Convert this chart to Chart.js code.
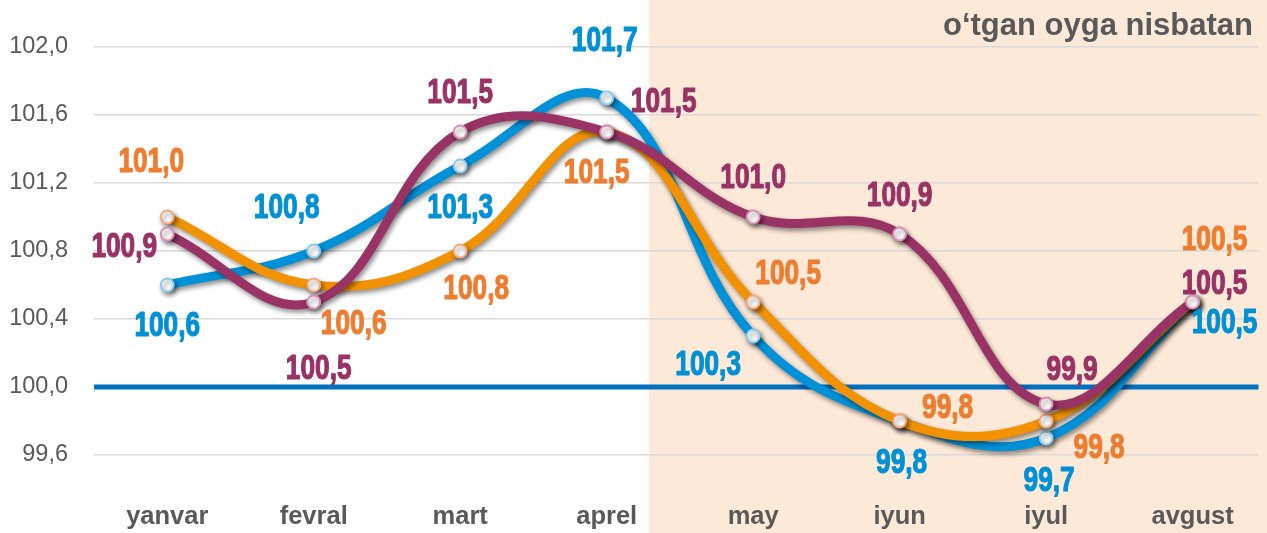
<!DOCTYPE html>
<html>
<head>
<meta charset="utf-8">
<script src="https://cdn.jsdelivr.net/npm/chart.js@4.4.1/dist/chart.umd.min.js"></script>
<style>
    html, body { margin: 0; padding: 0; background: #fff; overflow: hidden; }
    canvas { display: block; }
</style>
</head>
<body>
<canvas id="myChart" width="1267" height="533"></canvas>
<script>
const months = ["yanvar", "fevral", "mart", "aprel", "may", "iyun", "iyul", "avgust"];
const blueValues = [100.6, 100.8, 101.3, 101.7, 100.3, 99.8, 99.7, 100.5];
const orangeValues = [101.0, 100.6, 100.8, 101.5, 100.5, 99.8, 99.8, 100.5];
const purpleValues = [100.9, 100.5, 101.5, 101.5, 101.0, 100.9, 99.9, 100.5];
const yTicks = [99.6, 100.0, 100.4, 100.8, 101.2, 101.6, 102.0];
const baseline = 100;
const titleText = "o‘tgan oyga nisbatan";

const toPoints = (vals) => vals.map((v, i) => ({ x: i, y: v }));
const fmt = (v) => v.toFixed(1).replace(".", ",");

// label offsets (px) from each point, per series
const blueOffsets = [[0, 40], [-27, -44], [0, 41], [-2, -58], [-45, 28], [2, 41], [3, 42], [32, 20]];
const orangeOffsets = [[-16, -56], [40, 38], [16, 37], [-10, 40], [35, -29], [48, -14], [53, 26], [22, -63]];
const purpleOffsets = [[-43, 12], [5, 66], [0, -40], [57, -31], [0, -40], [0, -39], [26, -35], [22, -19]];

// shaded area + baseline + title
const backPlugin = {
    id: "back",
    beforeDraw(chart) {
        const ctx = chart.ctx;
        const x0 = chart.scales.x.getPixelForValue(3.29);
        ctx.save();
        ctx.fillStyle = "#fde9d8";
        ctx.fillRect(x0, 0, chart.width - x0, chart.height);
        ctx.restore();
    },
    beforeDatasetsDraw(chart) {
        const ctx = chart.ctx;
        const y = chart.scales.y.getPixelForValue(baseline);
        ctx.save();
        ctx.strokeStyle = "#0070c0";
        ctx.lineWidth = 5;
        ctx.beginPath();
        ctx.moveTo(chart.chartArea.left, y);
        ctx.lineTo(chart.chartArea.right, y);
        ctx.stroke();
        ctx.restore();
    },
    afterDraw(chart) {
        const ctx = chart.ctx;
        ctx.save();
        ctx.fillStyle = "#595959";
        ctx.font = "bold 31px 'Liberation Sans', Arial, sans-serif";
        ctx.textAlign = "right";
        ctx.textBaseline = "alphabetic";
        ctx.fillText(titleText, 1253, 35);
        ctx.restore();
    },
};

const shadowPlugin = {
    id: "shadow",
    beforeDatasetDraw(chart) {
        const ctx = chart.ctx;
        ctx.save();
        ctx.shadowColor = "rgba(0,0,0,0.45)";
        ctx.shadowBlur = 5;
        ctx.shadowOffsetX = 2;
        ctx.shadowOffsetY = 3;
    },
    afterDatasetDraw(chart) {
        chart.ctx.restore();
    },
};

// condensed bold data labels
const labelPlugin = {
    id: "labels",
    afterDatasetsDraw(chart) {
        const ctx = chart.ctx;
        const sx = 0.75;
        ctx.save();
        ctx.font = "bold 35px 'Liberation Sans', Arial, sans-serif";
        ctx.textAlign = "center";
        ctx.textBaseline = "middle";
        ctx.lineWidth = 1.2;
        ctx.lineJoin = "round";
        chart.data.datasets.forEach((ds, di) => {
            const meta = chart.getDatasetMeta(di);
            meta.data.forEach((pt, i) => {
                const off = ds.labelOffsets[i];
                const tx = (pt.x + off[0]) / sx;
                const ty = pt.y + off[1] + 1;
                ctx.save();
                ctx.scale(sx, 1);
                ctx.fillStyle = ds.labelColor;
                ctx.strokeStyle = ds.labelColor;
                ctx.fillText(fmt(ds.data[i].y), tx, ty);
                ctx.strokeText(fmt(ds.data[i].y), tx, ty);
                ctx.restore();
            });
        });
        ctx.restore();
    },
};

const data = {
    datasets: [{
            label: "purple",
            data: toPoints(purpleValues),
            borderColor: "#993366",
            pointBorderColor: "#d98fb4",
            labelColor: "#993366",
            labelOffsets: purpleOffsets,
        },
        {
            label: "orange",
            data: toPoints(orangeValues),
            borderColor: "#f39200",
            pointBorderColor: "#f5a878",
            labelColor: "#ed7d31",
            labelOffsets: orangeOffsets,
        },
        {
            label: "blue",
            data: toPoints(blueValues),
            borderColor: "#0091d8",
            pointBorderColor: "#86cdf0",
            labelColor: "#0091d5",
            labelOffsets: blueOffsets,
        },
    ],
};

const config = {
    type: "line",
    data: data,
    options: {
        responsive: false,
        animation: false,
        layout: { padding: { top: 13, right: 0, left: 0, bottom: 0 } },
        elements: {
            line: { borderWidth: 9, tension: 0.4, capBezierPoints: false },
            point: { radius: 6.5, borderWidth: 2, backgroundColor: "#ffffff", hoverRadius: 6.5 },
        },
        plugins: {
            legend: { display: false },
            tooltip: { enabled: false },
        },
        scales: {
            x: {
                type: "linear",
                min: -0.5,
                max: 7.45,
                grid: { display: false },
                border: { display: false },
                afterBuildTicks: (scale) => {
                    scale.ticks = months.map((m, i) => ({ value: i }));
                },
                afterFit: (scale) => {
                    scale.height = 44;
                    scale.paddingLeft = 0;
                    scale.paddingRight = 0;
                },
                ticks: {
                    autoSkip: false,
                    maxRotation: 0,
                    padding: 5,
                    color: "#595959",
                    font: { family: "'Liberation Sans', Arial, sans-serif", size: 25.5, weight: "bold" },
                    callback: (v) => months[v],
                },
            },
            y: {
                min: 99.4,
                max: 102.2,
                border: { display: false },
                grid: { color: "#d9d9d9", lineWidth: 1.5, drawTicks: false },
                afterBuildTicks: (scale) => {
                    scale.ticks = yTicks.map((v) => ({ value: v }));
                },
                afterFit: (scale) => {
                    scale.width = 94;
                    scale.paddingTop = 0;
                    scale.paddingBottom = 0;
                },
                ticks: {
                    padding: 26,
                    color: "#595959",
                    font: { family: "'Liberation Sans', Arial, sans-serif", size: 23.5 },
                    callback: (v) => fmt(v),
                },
            },
        },
    },
    plugins: [backPlugin, shadowPlugin, labelPlugin],
};

const myChart = new Chart(document.getElementById("myChart"), config);
</script>
</body>
</html>
